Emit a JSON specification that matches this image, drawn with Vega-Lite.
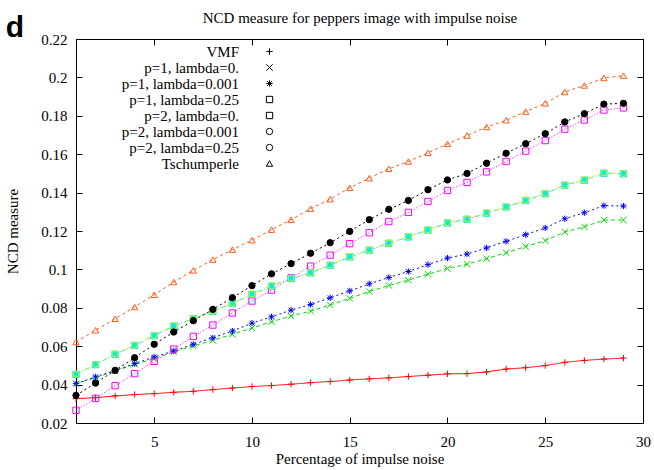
{
  "$schema": "https://vega.github.io/schema/vega-lite/v6.json",
  "width": 567,
  "height": 384,
  "autosize": "none",
  "padding": {"left": 76, "top": 39, "right": 11, "bottom": 47},
  "background": "white",
  "title": {"text": "d", "anchor": "start", "frame": "bounds", "font": "Liberation Sans", "fontSize": 30, "fontWeight": "bold", "color": "black", "baseline": "alphabetic", "offset": 0, "dy": 56},
  "config": {
    "view": {"stroke": "black", "strokeWidth": 1},
    "axis": {"labelFont": "Liberation Serif", "labelFontSize": 15, "labelColor": "black", "titleFont": "Liberation Serif", "titleFontSize": 15, "titleFontWeight": "normal", "titleColor": "black", "domainColor": "black", "tickColor": "black", "grid": false, "tickSize": -6, "domainWidth": 1, "tickWidth": 1},
    "legend": {"labelFont": "Liberation Serif", "labelFontSize": 15, "labelColor": "black", "rowPadding": 0, "padding": 0, "labelAlign": "right", "labelLimit": 300, "clipHeight": 15}
  },
  "data": {"values": [
    {"series":"VMF","pct":1,"ncd":0.0327},{"series":"VMF","pct":2,"ncd":0.0332},{"series":"VMF","pct":3,"ncd":0.0341},{"series":"VMF","pct":4,"ncd":0.0348},{"series":"VMF","pct":5,"ncd":0.0353},{"series":"VMF","pct":6,"ncd":0.036},{"series":"VMF","pct":7,"ncd":0.0365},{"series":"VMF","pct":8,"ncd":0.0374},{"series":"VMF","pct":9,"ncd":0.0382},{"series":"VMF","pct":10,"ncd":0.039},{"series":"VMF","pct":11,"ncd":0.0395},{"series":"VMF","pct":12,"ncd":0.0402},{"series":"VMF","pct":13,"ncd":0.041},{"series":"VMF","pct":14,"ncd":0.0416},{"series":"VMF","pct":15,"ncd":0.0424},{"series":"VMF","pct":16,"ncd":0.043},{"series":"VMF","pct":17,"ncd":0.0435},{"series":"VMF","pct":18,"ncd":0.0442},{"series":"VMF","pct":19,"ncd":0.0449},{"series":"VMF","pct":20,"ncd":0.0456},{"series":"VMF","pct":21,"ncd":0.0457},{"series":"VMF","pct":22,"ncd":0.0466},{"series":"VMF","pct":23,"ncd":0.0481},{"series":"VMF","pct":24,"ncd":0.0488},{"series":"VMF","pct":25,"ncd":0.0499},{"series":"VMF","pct":26,"ncd":0.0516},{"series":"VMF","pct":27,"ncd":0.0526},{"series":"VMF","pct":28,"ncd":0.0533},{"series":"VMF","pct":29,"ncd":0.0538},
    {"series":"p=1, lambda=0.","pct":1,"ncd":0.0405},{"series":"p=1, lambda=0.","pct":2,"ncd":0.0436},{"series":"p=1, lambda=0.","pct":3,"ncd":0.0471},{"series":"p=1, lambda=0.","pct":4,"ncd":0.0505},{"series":"p=1, lambda=0.","pct":5,"ncd":0.0535},{"series":"p=1, lambda=0.","pct":6,"ncd":0.057},{"series":"p=1, lambda=0.","pct":7,"ncd":0.0601},{"series":"p=1, lambda=0.","pct":8,"ncd":0.0631},{"series":"p=1, lambda=0.","pct":9,"ncd":0.0662},{"series":"p=1, lambda=0.","pct":10,"ncd":0.0695},{"series":"p=1, lambda=0.","pct":11,"ncd":0.0727},{"series":"p=1, lambda=0.","pct":12,"ncd":0.0757},{"series":"p=1, lambda=0.","pct":13,"ncd":0.0783},{"series":"p=1, lambda=0.","pct":14,"ncd":0.0815},{"series":"p=1, lambda=0.","pct":15,"ncd":0.0849},{"series":"p=1, lambda=0.","pct":16,"ncd":0.0885},{"series":"p=1, lambda=0.","pct":17,"ncd":0.0916},{"series":"p=1, lambda=0.","pct":18,"ncd":0.0944},{"series":"p=1, lambda=0.","pct":19,"ncd":0.0975},{"series":"p=1, lambda=0.","pct":20,"ncd":0.1005},{"series":"p=1, lambda=0.","pct":21,"ncd":0.1027},{"series":"p=1, lambda=0.","pct":22,"ncd":0.1056},{"series":"p=1, lambda=0.","pct":23,"ncd":0.1087},{"series":"p=1, lambda=0.","pct":24,"ncd":0.1119},{"series":"p=1, lambda=0.","pct":25,"ncd":0.115},{"series":"p=1, lambda=0.","pct":26,"ncd":0.1195},{"series":"p=1, lambda=0.","pct":27,"ncd":0.1222},{"series":"p=1, lambda=0.","pct":28,"ncd":0.1257},{"series":"p=1, lambda=0.","pct":29,"ncd":0.1257},
    {"series":"p=1, lambda=0.001","pct":1,"ncd":0.0405},{"series":"p=1, lambda=0.001","pct":2,"ncd":0.044},{"series":"p=1, lambda=0.001","pct":3,"ncd":0.0474},{"series":"p=1, lambda=0.001","pct":4,"ncd":0.0509},{"series":"p=1, lambda=0.001","pct":5,"ncd":0.0544},{"series":"p=1, lambda=0.001","pct":6,"ncd":0.0575},{"series":"p=1, lambda=0.001","pct":7,"ncd":0.061},{"series":"p=1, lambda=0.001","pct":8,"ncd":0.0644},{"series":"p=1, lambda=0.001","pct":9,"ncd":0.0679},{"series":"p=1, lambda=0.001","pct":10,"ncd":0.072},{"series":"p=1, lambda=0.001","pct":11,"ncd":0.0753},{"series":"p=1, lambda=0.001","pct":12,"ncd":0.0788},{"series":"p=1, lambda=0.001","pct":13,"ncd":0.0817},{"series":"p=1, lambda=0.001","pct":14,"ncd":0.0852},{"series":"p=1, lambda=0.001","pct":15,"ncd":0.0888},{"series":"p=1, lambda=0.001","pct":16,"ncd":0.0925},{"series":"p=1, lambda=0.001","pct":17,"ncd":0.0958},{"series":"p=1, lambda=0.001","pct":18,"ncd":0.0989},{"series":"p=1, lambda=0.001","pct":19,"ncd":0.1025},{"series":"p=1, lambda=0.001","pct":20,"ncd":0.1059},{"series":"p=1, lambda=0.001","pct":21,"ncd":0.108},{"series":"p=1, lambda=0.001","pct":22,"ncd":0.1112},{"series":"p=1, lambda=0.001","pct":23,"ncd":0.1146},{"series":"p=1, lambda=0.001","pct":24,"ncd":0.1181},{"series":"p=1, lambda=0.001","pct":25,"ncd":0.1216},{"series":"p=1, lambda=0.001","pct":26,"ncd":0.1264},{"series":"p=1, lambda=0.001","pct":27,"ncd":0.1295},{"series":"p=1, lambda=0.001","pct":28,"ncd":0.1332},{"series":"p=1, lambda=0.001","pct":29,"ncd":0.133},
    {"series":"p=1, lambda=0.25","pct":1,"ncd":0.0266},{"series":"p=1, lambda=0.25","pct":2,"ncd":0.0328},{"series":"p=1, lambda=0.25","pct":3,"ncd":0.0394},{"series":"p=1, lambda=0.25","pct":4,"ncd":0.0457},{"series":"p=1, lambda=0.25","pct":5,"ncd":0.0521},{"series":"p=1, lambda=0.25","pct":6,"ncd":0.0585},{"series":"p=1, lambda=0.25","pct":7,"ncd":0.0651},{"series":"p=1, lambda=0.25","pct":8,"ncd":0.071},{"series":"p=1, lambda=0.25","pct":9,"ncd":0.0773},{"series":"p=1, lambda=0.25","pct":10,"ncd":0.0835},{"series":"p=1, lambda=0.25","pct":11,"ncd":0.0892},{"series":"p=1, lambda=0.25","pct":12,"ncd":0.0956},{"series":"p=1, lambda=0.25","pct":13,"ncd":0.1017},{"series":"p=1, lambda=0.25","pct":14,"ncd":0.1074},{"series":"p=1, lambda=0.25","pct":15,"ncd":0.1134},{"series":"p=1, lambda=0.25","pct":16,"ncd":0.1191},{"series":"p=1, lambda=0.25","pct":17,"ncd":0.1249},{"series":"p=1, lambda=0.25","pct":18,"ncd":0.1297},{"series":"p=1, lambda=0.25","pct":19,"ncd":0.1354},{"series":"p=1, lambda=0.25","pct":20,"ncd":0.1411},{"series":"p=1, lambda=0.25","pct":21,"ncd":0.1453},{"series":"p=1, lambda=0.25","pct":22,"ncd":0.1508},{"series":"p=1, lambda=0.25","pct":23,"ncd":0.1562},{"series":"p=1, lambda=0.25","pct":24,"ncd":0.1616},{"series":"p=1, lambda=0.25","pct":25,"ncd":0.1671},{"series":"p=1, lambda=0.25","pct":26,"ncd":0.173},{"series":"p=1, lambda=0.25","pct":27,"ncd":0.1778},{"series":"p=1, lambda=0.25","pct":28,"ncd":0.183},{"series":"p=1, lambda=0.25","pct":29,"ncd":0.1841},
    {"series":"p=2, lambda=0.","pct":1,"ncd":0.0453},{"series":"p=2, lambda=0.","pct":2,"ncd":0.0504},{"series":"p=2, lambda=0.","pct":3,"ncd":0.0558},{"series":"p=2, lambda=0.","pct":4,"ncd":0.0604},{"series":"p=2, lambda=0.","pct":5,"ncd":0.0655},{"series":"p=2, lambda=0.","pct":6,"ncd":0.0705},{"series":"p=2, lambda=0.","pct":7,"ncd":0.0743},{"series":"p=2, lambda=0.","pct":8,"ncd":0.0782},{"series":"p=2, lambda=0.","pct":9,"ncd":0.0822},{"series":"p=2, lambda=0.","pct":10,"ncd":0.087},{"series":"p=2, lambda=0.","pct":11,"ncd":0.0913},{"series":"p=2, lambda=0.","pct":12,"ncd":0.0952},{"series":"p=2, lambda=0.","pct":13,"ncd":0.0982},{"series":"p=2, lambda=0.","pct":14,"ncd":0.1022},{"series":"p=2, lambda=0.","pct":15,"ncd":0.1065},{"series":"p=2, lambda=0.","pct":16,"ncd":0.11},{"series":"p=2, lambda=0.","pct":17,"ncd":0.1136},{"series":"p=2, lambda=0.","pct":18,"ncd":0.1169},{"series":"p=2, lambda=0.","pct":19,"ncd":0.1205},{"series":"p=2, lambda=0.","pct":20,"ncd":0.1242},{"series":"p=2, lambda=0.","pct":21,"ncd":0.1261},{"series":"p=2, lambda=0.","pct":22,"ncd":0.1293},{"series":"p=2, lambda=0.","pct":23,"ncd":0.1325},{"series":"p=2, lambda=0.","pct":24,"ncd":0.1359},{"series":"p=2, lambda=0.","pct":25,"ncd":0.1394},{"series":"p=2, lambda=0.","pct":26,"ncd":0.1439},{"series":"p=2, lambda=0.","pct":27,"ncd":0.1465},{"series":"p=2, lambda=0.","pct":28,"ncd":0.1501},{"series":"p=2, lambda=0.","pct":29,"ncd":0.1498},
    {"series":"p=2, lambda=0.001","pct":1,"ncd":0.0455},{"series":"p=2, lambda=0.001","pct":2,"ncd":0.0506},{"series":"p=2, lambda=0.001","pct":3,"ncd":0.056},{"series":"p=2, lambda=0.001","pct":4,"ncd":0.0606},{"series":"p=2, lambda=0.001","pct":5,"ncd":0.0657},{"series":"p=2, lambda=0.001","pct":6,"ncd":0.0707},{"series":"p=2, lambda=0.001","pct":7,"ncd":0.0745},{"series":"p=2, lambda=0.001","pct":8,"ncd":0.0784},{"series":"p=2, lambda=0.001","pct":9,"ncd":0.0824},{"series":"p=2, lambda=0.001","pct":10,"ncd":0.0872},{"series":"p=2, lambda=0.001","pct":11,"ncd":0.0915},{"series":"p=2, lambda=0.001","pct":12,"ncd":0.0954},{"series":"p=2, lambda=0.001","pct":13,"ncd":0.0984},{"series":"p=2, lambda=0.001","pct":14,"ncd":0.1024},{"series":"p=2, lambda=0.001","pct":15,"ncd":0.1067},{"series":"p=2, lambda=0.001","pct":16,"ncd":0.1102},{"series":"p=2, lambda=0.001","pct":17,"ncd":0.1138},{"series":"p=2, lambda=0.001","pct":18,"ncd":0.1171},{"series":"p=2, lambda=0.001","pct":19,"ncd":0.1207},{"series":"p=2, lambda=0.001","pct":20,"ncd":0.1244},{"series":"p=2, lambda=0.001","pct":21,"ncd":0.1263},{"series":"p=2, lambda=0.001","pct":22,"ncd":0.1295},{"series":"p=2, lambda=0.001","pct":23,"ncd":0.1327},{"series":"p=2, lambda=0.001","pct":24,"ncd":0.1361},{"series":"p=2, lambda=0.001","pct":25,"ncd":0.1396},{"series":"p=2, lambda=0.001","pct":26,"ncd":0.1441},{"series":"p=2, lambda=0.001","pct":27,"ncd":0.1467},{"series":"p=2, lambda=0.001","pct":28,"ncd":0.1503},{"series":"p=2, lambda=0.001","pct":29,"ncd":0.15},
    {"series":"p=2, lambda=0.25","pct":1,"ncd":0.0344},{"series":"p=2, lambda=0.25","pct":2,"ncd":0.0408},{"series":"p=2, lambda=0.25","pct":3,"ncd":0.0474},{"series":"p=2, lambda=0.25","pct":4,"ncd":0.054},{"series":"p=2, lambda=0.25","pct":5,"ncd":0.061},{"series":"p=2, lambda=0.25","pct":6,"ncd":0.0674},{"series":"p=2, lambda=0.25","pct":7,"ncd":0.0733},{"series":"p=2, lambda=0.25","pct":8,"ncd":0.0792},{"series":"p=2, lambda=0.25","pct":9,"ncd":0.0853},{"series":"p=2, lambda=0.25","pct":10,"ncd":0.0915},{"series":"p=2, lambda=0.25","pct":11,"ncd":0.0977},{"series":"p=2, lambda=0.25","pct":12,"ncd":0.103},{"series":"p=2, lambda=0.25","pct":13,"ncd":0.1084},{"series":"p=2, lambda=0.25","pct":14,"ncd":0.1139},{"series":"p=2, lambda=0.25","pct":15,"ncd":0.1198},{"series":"p=2, lambda=0.25","pct":16,"ncd":0.1259},{"series":"p=2, lambda=0.25","pct":17,"ncd":0.1313},{"series":"p=2, lambda=0.25","pct":18,"ncd":0.1359},{"series":"p=2, lambda=0.25","pct":19,"ncd":0.1415},{"series":"p=2, lambda=0.25","pct":20,"ncd":0.1466},{"series":"p=2, lambda=0.25","pct":21,"ncd":0.15},{"series":"p=2, lambda=0.25","pct":22,"ncd":0.1553},{"series":"p=2, lambda=0.25","pct":23,"ncd":0.1605},{"series":"p=2, lambda=0.25","pct":24,"ncd":0.1655},{"series":"p=2, lambda=0.25","pct":25,"ncd":0.1707},{"series":"p=2, lambda=0.25","pct":26,"ncd":0.1768},{"series":"p=2, lambda=0.25","pct":27,"ncd":0.1811},{"series":"p=2, lambda=0.25","pct":28,"ncd":0.1861},{"series":"p=2, lambda=0.25","pct":29,"ncd":0.1865},
    {"series":"Tschumperle","pct":1,"ncd":0.0622},{"series":"Tschumperle","pct":2,"ncd":0.0683},{"series":"Tschumperle","pct":3,"ncd":0.0743},{"series":"Tschumperle","pct":4,"ncd":0.0804},{"series":"Tschumperle","pct":5,"ncd":0.0868},{"series":"Tschumperle","pct":6,"ncd":0.0934},{"series":"Tschumperle","pct":7,"ncd":0.0995},{"series":"Tschumperle","pct":8,"ncd":0.1051},{"series":"Tschumperle","pct":9,"ncd":0.1103},{"series":"Tschumperle","pct":10,"ncd":0.1152},{"series":"Tschumperle","pct":11,"ncd":0.1207},{"series":"Tschumperle","pct":12,"ncd":0.1259},{"series":"Tschumperle","pct":13,"ncd":0.1316},{"series":"Tschumperle","pct":14,"ncd":0.1366},{"series":"Tschumperle","pct":15,"ncd":0.1425},{"series":"Tschumperle","pct":16,"ncd":0.1475},{"series":"Tschumperle","pct":17,"ncd":0.1524},{"series":"Tschumperle","pct":18,"ncd":0.1562},{"series":"Tschumperle","pct":19,"ncd":0.1607},{"series":"Tschumperle","pct":20,"ncd":0.1654},{"series":"Tschumperle","pct":21,"ncd":0.1697},{"series":"Tschumperle","pct":22,"ncd":0.1742},{"series":"Tschumperle","pct":23,"ncd":0.1777},{"series":"Tschumperle","pct":24,"ncd":0.1822},{"series":"Tschumperle","pct":25,"ncd":0.1865},{"series":"Tschumperle","pct":26,"ncd":0.1924},{"series":"Tschumperle","pct":27,"ncd":0.1958},{"series":"Tschumperle","pct":28,"ncd":0.1997},{"series":"Tschumperle","pct":29,"ncd":0.2009}
  ]},
  "resolve": {"axis": {"x": "independent", "y": "independent"}},
  "layer": [
    {
      "mark": {"type": "line", "strokeWidth": 1},
      "encoding": {
        "x": {"field": "pct", "type": "quantitative", "scale": {"domain": [1, 30], "nice": false, "zero": false},
              "axis": {"orient": "bottom", "values": [5, 10, 15, 20, 25, 30], "title": "Percentage of impulse noise", "labelPadding": 17, "titlePadding": 2, "labelFlush": false}},
        "y": {"field": "ncd", "type": "quantitative", "scale": {"domain": [0.02, 0.22], "nice": false, "zero": false},
              "axis": {"orient": "left", "values": [0.02, 0.04, 0.06, 0.08, 0.1, 0.12, 0.14, 0.16, 0.18, 0.2, 0.22], "format": ".2~f", "title": "NCD measure", "labelPadding": 15, "titlePadding": 20, "labelFlush": false}},
        "color": {"field": "series", "type": "nominal",
                  "scale": {"domain": ["VMF", "p=1, lambda=0.", "p=1, lambda=0.001", "p=1, lambda=0.25", "p=2, lambda=0.", "p=2, lambda=0.001", "p=2, lambda=0.25", "Tschumperle"],
                            "range": ["#ff0000", "#00dd00", "#0000ff", "#ff00ff", "#00eeee", "#eeee00", "#000000", "#ff5a1a"]},
                  "legend": {"orient": "none", "legendX": 0, "legendY": 5, "title": null, "symbolType": "M-2.8,0L2.8,0", "symbolSize": 225, "symbolStrokeWidth": 1, "symbolStrokeColor": "black", "symbolOffset": 185.5, "labelOffset": -38.5, "labelAlign": "right",
                             "encode": {"symbols": {"update": {"stroke": {"signal": "scale('color', datum.value)"}, "strokeDash": {"signal": "scale('strokeDash', datum.value)"}}}}}},
        "strokeDash": {"field": "series", "type": "nominal", "legend": null,
                  "scale": {"domain": ["VMF", "p=1, lambda=0.", "p=1, lambda=0.001", "p=1, lambda=0.25", "p=2, lambda=0.", "p=2, lambda=0.001", "p=2, lambda=0.25", "Tschumperle"],
                            "range": [[1, 0], [4, 3], [2, 3], [1, 2], [5, 2, 1, 2], [4, 3, 1, 3], [2, 3], [3, 3]]}}
      }
    },
    {
      "mark": {"type": "point", "size": 40, "strokeWidth": 1, "opacity": 1},
      "encoding": {
        "x": {"field": "pct", "type": "quantitative",
              "axis": {"orient": "top", "values": [5, 10, 15, 20, 25, 30], "labels": false, "title": "NCD measure for peppers image with impulse noise", "titlePadding": 13}},
        "y": {"field": "ncd", "type": "quantitative",
              "axis": {"orient": "right", "values": [0.02, 0.04, 0.06, 0.08, 0.1, 0.12, 0.14, 0.16, 0.18, 0.2, 0.22], "labels": false, "title": null}},
        "shape": {"field": "series", "type": "nominal",
                  "sort": ["VMF", "p=1, lambda=0.", "p=1, lambda=0.001", "p=1, lambda=0.25", "p=2, lambda=0.", "p=2, lambda=0.001", "p=2, lambda=0.25", "Tschumperle"],
                  "scale": {"range": ["M-1,0L1,0M0,-1L0,1", "M-1,-1L1,1M-1,1L1,-1", "M-1,0L1,0M0,-1L0,1M-0.75,-0.75L0.75,0.75M-0.75,0.75L0.75,-0.75", "square", "square", "circle", "circle", "triangle-up"]},
                  "legend": {"orient": "none", "legendX": 0, "legendY": 5, "title": null, "symbolSize": 40, "symbolStrokeWidth": 1, "symbolFillColor": "transparent", "symbolStrokeColor": "black", "symbolOffset": 186, "labelExpr": "''",
                             "encode": {"symbols": {"update": {"stroke": {"signal": "scale('stroke', datum.value)"}, "fill": {"signal": "scale('fill', datum.value)"}}}}}},
        "stroke": {"field": "series", "type": "nominal", "legend": null,
                  "sort": ["VMF", "p=1, lambda=0.", "p=1, lambda=0.001", "p=1, lambda=0.25", "p=2, lambda=0.", "p=2, lambda=0.001", "p=2, lambda=0.25", "Tschumperle"],
                  "scale": {"range": ["#ff0000", "#00dd00", "#0000ff", "#ff00ff", "#00eeee", "#eeee00", "#000000", "#ff5a1a"]}},
        "fill": {"field": "series", "type": "nominal", "legend": null,
                  "sort": ["VMF", "p=1, lambda=0.", "p=1, lambda=0.001", "p=1, lambda=0.25", "p=2, lambda=0.", "p=2, lambda=0.001", "p=2, lambda=0.25", "Tschumperle"],
                  "scale": {"range": ["transparent", "transparent", "#0000ff", "transparent", "#00eeee", "transparent", "#000000", "transparent"]}}
      }
    }
  ]
}
